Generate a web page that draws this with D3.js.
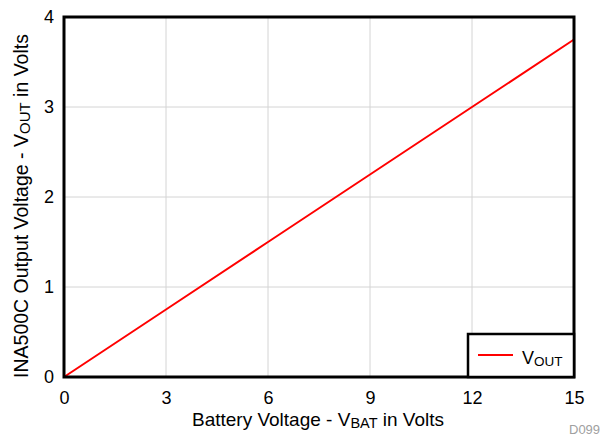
<!DOCTYPE html>
<html>
<head>
<meta charset="utf-8">
<script src="https://cdn.jsdelivr.net/npm/d3@7"></script>
<style>
  html, body { margin: 0; padding: 0; background: #fff; }
  text { font-family: "Liberation Sans", Arial, Helvetica, sans-serif; }
</style>
</head>
<body>
<svg id="chart" width="600" height="435"></svg>
<script>
// INA500C output voltage versus battery voltage
const batteryVolts = [0, 3, 6, 9, 12, 15];
const outputVolts = [0, 0.75, 1.5, 2.25, 3.0, 3.75];
const xTicks = [0, 3, 6, 9, 12, 15];
const yTicks = [0, 1, 2, 3, 4];
const seriesName = "V";
const seriesSub = "OUT";

const svg = d3.select("#chart");
const m = { left: 64, right: 574, top: 17, bottom: 377 };
const FONT = '"Liberation Sans", Arial, sans-serif';

const x = d3.scaleLinear().domain([0, 15]).range([m.left, m.right]);
const y = d3.scaleLinear().domain([0, 4]).range([m.bottom, m.top]);

// grid
svg.append("g")
  .selectAll("line")
  .data(xTicks.slice(1, -1))
  .join("line")
  .attr("x1", d => x(d)).attr("x2", d => x(d))
  .attr("y1", m.top).attr("y2", m.bottom)
  .attr("stroke", "#d4d4d4").attr("stroke-width", 1);
svg.append("g")
  .selectAll("line")
  .data(yTicks.slice(1, -1))
  .join("line")
  .attr("x1", m.left).attr("x2", m.right)
  .attr("y1", d => y(d)).attr("y2", d => y(d))
  .attr("stroke", "#d4d4d4").attr("stroke-width", 1);

// tick labels via axes
const xAxis = svg.append("g")
  .attr("transform", `translate(0,${m.bottom})`)
  .call(d3.axisBottom(x).tickValues(xTicks).tickFormat(d3.format("d")).tickSize(0).tickPadding(14));
xAxis.select(".domain").remove();
xAxis.selectAll("text").attr("font-size", 18).attr("fill", "#000").style("font-family", FONT);

const yAxis = svg.append("g")
  .attr("transform", `translate(${m.left},0)`)
  .call(d3.axisLeft(y).tickValues(yTicks).tickFormat(d3.format("d")).tickSize(0).tickPadding(10));
yAxis.select(".domain").remove();
yAxis.selectAll("text").attr("font-size", 18).attr("fill", "#000").style("font-family", FONT);

// series line
svg.append("path")
  .datum(batteryVolts.map((v, i) => [v, outputVolts[i]]))
  .attr("d", d3.line().x(d => x(d[0])).y(d => y(d[1])))
  .attr("fill", "none")
  .attr("stroke", "#ff0000")
  .attr("stroke-width", 2);

// frame
svg.append("rect")
  .attr("x", m.left).attr("y", m.top)
  .attr("width", m.right - m.left).attr("height", m.bottom - m.top)
  .attr("fill", "none").attr("stroke", "#000").attr("stroke-width", 3);

// legend
const lg = svg.append("g");
lg.append("rect")
  .attr("x", 468).attr("y", 334).attr("width", 106).attr("height", 43)
  .attr("fill", "#fff").attr("stroke", "#000").attr("stroke-width", 2.5);
lg.append("line")
  .attr("x1", 478).attr("x2", 513).attr("y1", 355).attr("y2", 355)
  .attr("stroke", "#ff0000").attr("stroke-width", 2);
const lt = lg.append("text").attr("x", 522).attr("y", 364).attr("font-size", 18);
lt.append("tspan").text(seriesName);
lt.append("tspan").attr("font-size", 13.5).attr("dy", 2).text(seriesSub);

// axis titles
const xt = svg.append("text")
  .attr("x", 318).attr("y", 426).attr("text-anchor", "middle").attr("font-size", 19);
xt.append("tspan").text("Battery Voltage - V");
xt.append("tspan").attr("font-size", 14.5).attr("dy", 2).text("BAT");
xt.append("tspan").attr("dy", -2).text(" in Volts");

const yt = svg.append("text")
  .attr("transform", "translate(28,206) rotate(-90)")
  .attr("text-anchor", "middle").attr("font-size", 19.5);
yt.append("tspan").text("INA500C Output Voltage - V");
yt.append("tspan").attr("font-size", 15).attr("dy", 2).text("OUT");
yt.append("tspan").attr("dy", -2).text(" in Volts");

// document code
svg.append("text")
  .attr("x", 569).attr("y", 434).attr("font-size", 13).attr("fill", "#a0a0a0")
  .text("D099");
</script>
</body>
</html>
